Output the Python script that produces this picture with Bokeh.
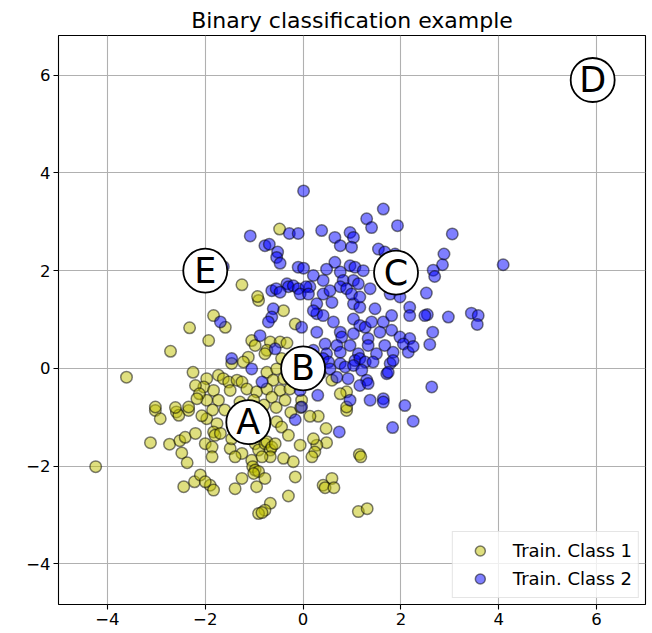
from bokeh.plotting import figure
from bokeh.models import FixedTicker, CustomJSTickFormatter, Range1d, ColumnDataSource
from bokeh.core.properties import value
from bokeh.embed import file_html
from bokeh.resources import INLINE

# ---- data ----
class1 = [
    (0.47,-1.23),(0.48,-1.52),(0.28,-1.57),(0.24,-1.71),(0.18,-1.81),(0.21,-1.44),(1.15,-1.76),(1.18,-1.81),
    (0.59,-2.25),(0.41,-2.39),(0.45,-2.44),(0.63,-2.44),(1.13,-2.93),(1.31,-2.87),(0.31,-0.98),(0.89,-0.86),(0.14,-0.98),
    (-4.24,-2.01),(-3.12,-1.52),(-2.73,-1.55),(-2.52,-1.48),(-2.41,-1.41),(-2.20,-1.33),(-2.48,-1.73),(-2.37,-1.93),
    (-2.44,-2.42),(-2.22,-2.32),(-3.02,-0.86),(-2.92,-1.03),(-2.59,-0.89),(-2.54,-0.96),(-2.34,-0.86),
    (-1.97,-1.03),(-1.76,-1.13),(-1.83,-1.30),(-1.80,-1.37),(-1.69,-1.33),(-2.00,-1.54),(-1.86,-1.61),(-1.86,-1.81),
    (-1.49,-1.64),(-1.46,-1.44),(-1.25,-1.74),(-1.39,-1.81),(-1.05,-1.88),(-1.03,-2.01),(-0.98,-2.08),(-0.91,-2.11),
    (-1.01,-2.15),(-0.98,-1.54),(-0.91,-1.67),(-0.78,-1.54),(-0.74,-1.50),(-0.67,-1.67),(-0.64,-1.61),(-0.67,-1.81),
    (-0.84,-1.81),(-0.57,-1.54),(-0.54,-1.09),(-0.44,-1.20),(-0.30,-1.37),(-0.06,-1.57),(-0.40,-1.84),(-0.20,-1.91),
    (-0.16,-2.22),(-2.10,-2.18),(-1.90,-2.39),(-1.83,-2.49),(-2.00,-2.32),(-1.25,-2.25),(-1.39,-2.46),(-0.95,-2.42),
    (-0.78,-2.25),(-0.30,-2.61),(-0.67,-2.76),(-0.78,-2.90),(-0.91,-2.97),(-0.84,-2.95),(-2.07,-0.97),
    (-1.83,1.08),(-1.59,0.84),(-0.40,1.18),(-0.16,0.91),(-1.93,0.57),(-1.05,0.57),(-0.98,0.47),(-0.67,0.54),
    (-0.47,0.54),(-0.33,0.52),(-0.74,0.37),(-0.78,0.30),(-1.12,0.23),(-1.22,0.13),(-1.46,0.10),(-0.74,-0.08),
    (-0.54,-0.01),(-0.44,0.20),(-1.97,-0.21),(-1.73,-0.14),(-1.63,-0.21),(-1.52,-0.28),(-1.35,-0.24),(-1.25,-0.28),
    (-0.61,-0.24),(-0.40,-0.21),(-2.03,-0.38),(-1.83,-0.45),(-1.49,-0.45),(-1.15,-0.42),(-0.95,-0.48),(-0.74,-0.42),
    (-0.47,-0.45),(-0.27,-0.42),(-1.97,-0.65),(-1.73,-0.65),(-1.29,-0.69),(-1.01,-0.65),(-0.64,-0.59),(-0.37,-0.65),
    (-0.03,-0.65),(-0.91,1.39),
    (-2.32,0.83),(-2.71,0.35),(-3.61,-0.18),(-2.25,-0.08),(-2.20,-0.35),(-2.12,-0.52),(-2.17,-0.62),(-3.02,-0.79),
    (-2.61,-0.80),(-2.34,-0.79),
    (0.59,-0.24),(0.89,-0.48),(0.76,-0.52),(0.89,-0.79),
    (-0.48,2.85),(-1.25,1.71),(-0.93,1.47),
    (-1.60,-0.85),(-1.35,-0.90),(-0.55,-0.80),(-0.25,-0.90),(-0.05,-0.80),(-1.85,-0.85),(-0.80,-0.75),(-1.05,-0.80),
]
class2 = [
    (3.05,2.75),(2.88,2.34),(2.85,2.12),(2.66,2.01),(2.69,1.88),(2.52,1.54),(4.09,2.12),
    (2.54,1.10),(2.49,1.08),(2.97,1.05),(3.44,1.13),(3.58,1.08),(3.56,0.90),(2.65,0.74),(2.59,0.49),(2.63,-0.38),
    (0.74,-1.30),(1.83,-1.21),(2.25,-1.08),(-0.16,-1.05),
    (-1.69,0.95),(-0.61,1.22),(-0.64,1.05),(-0.71,0.95),(-0.03,0.84),(-0.88,0.67),(-0.57,0.40),(-1.46,0.20),
    (-1.05,-0.01),(-0.84,-0.28),(-0.06,-0.45),(-0.03,-0.79),
    (0.28,1.32),(0.59,1.35),(1.03,1.32),(1.16,1.25),(1.47,1.22),(2.18,1.25),(2.18,1.08),(0.28,1.12),(0.41,1.08),
    (0.62,0.95),(1.03,1.01),(1.16,0.88),(1.27,0.84),(1.40,0.95),(1.64,0.95),(1.81,1.08),(0.28,0.74),(0.76,0.74),
    (0.79,0.64),(1.03,0.71),(1.33,0.61),(1.57,0.74),(1.81,0.78),(1.98,0.64),(2.18,0.61),(0.45,0.50),(0.69,0.47),
    (0.96,0.47),(1.33,0.47),(1.67,0.47),(2.05,0.50),(0.21,0.37),(0.48,0.30),(0.76,0.33),(1.13,0.30),(1.50,0.30),
    (1.84,0.33),(2.15,0.33),(0.41,0.20),(0.52,0.13),(0.76,0.10),(1.06,0.16),(1.16,0.20),(1.27,0.13),(1.43,0.13),
    (1.78,0.10),(1.84,0.16),(0.55,-0.01),(0.86,0.03),(1.03,0.06),(1.20,-0.04),(1.71,-0.11),(1.74,-0.08),(0.69,-0.18),
    (0.92,-0.21),(1.30,-0.24),(1.16,-0.35),(1.33,-0.31),(0.96,-0.65),(1.37,-0.65),(1.64,-0.62),(1.64,-0.69),
    (2.08,-0.76),(0.21,1.18),
    (1.64,3.26),(1.30,3.06),(1.40,2.88),(1.93,2.92),(0.38,2.82),(0.65,2.68),(0.76,2.51),(0.96,2.78),(1.03,2.68),
    (0.99,2.48),(1.54,2.44),(1.67,2.38),(1.88,2.34),(0.65,2.17),(0.48,2.03),(0.96,2.10),(1.06,2.07),(1.23,2.00),
    (0.76,1.97),(0.21,1.90),(0.41,1.80),(0.82,1.80),(1.03,1.80),(1.13,1.73),(1.37,1.63),(0.76,1.67),(0.89,1.63),
    (0.41,1.52),(0.55,1.59),(0.99,1.52),(1.16,1.46),(0.14,1.67),(1.78,1.52),(1.98,1.46),
    (-1.08,2.71),(-0.28,2.76),(-0.10,2.76),(-0.78,2.51),(-0.69,2.54),(-0.52,2.38),(-0.54,2.27),(-0.47,2.15),
    (-0.10,2.07),(0.01,2.05),(-1.63,2.08),(-0.64,1.59),(-0.55,1.63),(-0.33,1.73),(-0.30,1.67),(-0.20,1.69),
    (-0.10,1.63),(0.06,1.67),(-0.47,1.56),(-0.06,1.52),(0.11,1.52),(0.01,3.63),
    (0.15,0.10),(0.35,-0.10),(0.15,-0.30),(0.30,-0.55),(2.25,0.45),
]
class1_x = [p[0] for p in class1]
class1_y = [p[1] for p in class1]
class2_x = [p[0] for p in class2]
class2_y = [p[1] for p in class2]

label_names = ["A", "B", "C", "D", "E"]
label_x = [-1.12, 0.0, 1.90, 5.92, -2.0]
label_y = [-1.10, 0.0, 1.96, 5.90, 2.0]

x_ticks = [-4, -2, 0, 2, 4, 6]
y_ticks = [-4, -2, 0, 2, 4, 6]

FONT = "DejaVu Sans"

p = figure(width=652, height=633, output_backend="svg", toolbar_location=None,
           x_range=Range1d(-5, 7), y_range=Range1d(-4.83, 6.81),
           title="Binary classification example",
           min_border_left=58, min_border_right=7, min_border_top=35, min_border_bottom=29)

p.title.align = "center"
p.title.text_font = FONT
p.title.text_font_size = "22px"
p.title.text_font_style = "normal"
p.title.text_color = "black"
p.title.standoff = 5
p.title.offset = 0

p.outline_line_color = "black"
p.outline_line_width = 1.1
p.outline_line_alpha = 1.0
p.background_fill_color = "white"
p.border_fill_color = "white"

fmt = CustomJSTickFormatter(code="return tick < 0 ? '\u2212' + Math.abs(tick) : String(tick);")
for ax, ticks in ((p.xaxis[0], x_ticks), (p.yaxis[0], y_ticks)):
    ax.ticker = FixedTicker(ticks=ticks)
    ax.formatter = fmt
    ax.major_label_text_font = FONT
    ax.major_label_text_font_size = "16.5px"
    ax.major_label_text_color = "black"
    ax.axis_line_color = None
    ax.major_tick_line_color = "black"
    ax.major_tick_line_width = 1.1
    ax.major_tick_out = 5
    ax.major_tick_in = 0
    ax.minor_tick_line_color = None
    ax.major_label_standoff = 3

p.grid.grid_line_color = "#b0b0b0"
p.grid.grid_line_width = 1.1
p.xgrid.ticker = FixedTicker(ticks=x_ticks)
p.ygrid.ticker = FixedTicker(ticks=y_ticks)

p.scatter(class1_x, class1_y, size=11.5, fill_color="#bfbf00", fill_alpha=0.5,
          line_color="black", line_alpha=0.5, line_width=1.5, legend_label="Train. Class 1")
p.scatter(class2_x, class2_y, size=11.5, fill_color="#0000ff", fill_alpha=0.5,
          line_color="black", line_alpha=0.5, line_width=1.5, legend_label="Train. Class 2")

src = ColumnDataSource(dict(x=label_x, y=label_y, t=label_names))
p.scatter("x", "y", source=src, size=44, fill_color="white", line_color="black", line_width=1.8)
p.text("x", "y", text="t", source=src, text_align="center", text_baseline="middle",
       text_font=value(FONT), text_font_size="35px", text_color="black")

lg = p.legend[0]
lg.location = "bottom_right"
lg.label_text_font = FONT
lg.label_text_font_size = "18px"
lg.label_text_color = "black"
lg.border_line_color = "#cccccc"
lg.border_line_width = 1
lg.background_fill_alpha = 0.8
lg.margin = 6
lg.padding = 6
lg.spacing = 3
lg.glyph_width = 42
lg.glyph_height = 25
lg.label_standoff = 12

open("out.html", "w").write(file_html(p, INLINE))
